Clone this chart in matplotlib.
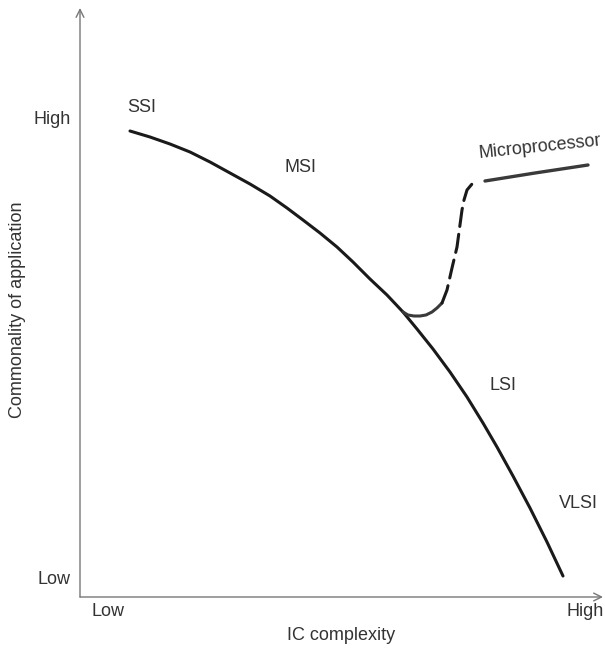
import matplotlib
matplotlib.use("Agg")
import matplotlib.pyplot as plt

# main curve: SSI -> MSI -> LSI -> VLSI (x = IC complexity, y = commonality)
main_x = [50, 70, 90, 110, 130, 150, 170, 190, 207, 223, 240, 257, 273,
          290, 307, 323, 337, 353, 370, 387, 403, 417, 433, 450, 467, 483]
main_y = [466, 460, 453, 445, 435, 424, 413, 401, 389, 377, 364, 350, 335,
          318, 302, 285, 268, 248, 225, 200, 174, 150, 121, 89, 55, 21]

# microprocessor branch: hook, dashed rise, solid plateau
hook_x = [323, 328, 334, 340, 346, 352, 357, 362]
hook_y = [285, 282, 281, 281, 282, 285, 289, 294]
rise_x = [362, 367, 372, 377, 382, 384, 387, 392, 398]
rise_y = [294, 307, 329, 350, 387, 397, 407, 413, 415]
plateau_x = [405, 455, 508]
plateau_y = [416, 424, 432]

xticks = [28, 505]
xtick_labels = ["Low", "High"]
yticks = [19, 480]
ytick_labels = ["Low", "High"]

labels = ["SSI", "MSI", "LSI", "VLSI"]
label_x = [62, 220, 423, 498]
label_y = [490, 430, 211, 93]

plt.rcParams["font.family"] = ["Liberation Sans", "DejaVu Sans"]
text_col = "#333333"
axis_col = "#777777"
fs = 13

fig = plt.figure(figsize=(6.05, 6.5), dpi=100)
ax = fig.add_axes([80 / 605, 53 / 650, 523 / 605, 589 / 650])
ax.set_xlim(0, 523)
ax.set_ylim(0, 589)
for s in ax.spines.values():
    s.set_visible(False)

# axes with open arrowheads
arrow = dict(arrowstyle="->", color=axis_col, lw=1.0, shrinkA=0, shrinkB=0,
             mutation_scale=14)
ax.annotate("", xy=(0, 589), xytext=(0, 0), arrowprops=arrow, annotation_clip=False)
ax.annotate("", xy=(523, 0), xytext=(0, 0), arrowprops=arrow, annotation_clip=False)

ax.plot(main_x, main_y, color="#1a1a1a", lw=2.2, solid_capstyle="round",
        solid_joinstyle="round")
ax.plot(hook_x, hook_y, color="#3a3a3a", lw=2.2, solid_capstyle="round",
        solid_joinstyle="round")
ax.plot(rise_x, rise_y, color="#1a1a1a", lw=2.2, dashes=(6, 2.6),
        dash_capstyle="round", dash_joinstyle="round")
ax.plot(plateau_x, plateau_y, color="#3a3a3a", lw=2.4, solid_capstyle="round")

for t, x, y in zip(labels, label_x, label_y):
    ax.text(x, y, t, ha="center", va="center", fontsize=fs, color=text_col)
ax.text(460, 450, "Microprocessor", ha="center", va="center", fontsize=fs,
        color=text_col, rotation=6)

ax.set_xticks(xticks, xtick_labels)
ax.set_yticks(yticks, ytick_labels)
ax.tick_params(length=0, labelsize=fs, labelcolor=text_col)
ax.tick_params(axis="x", pad=4)
ax.tick_params(axis="y", pad=7)
ax.set_xlabel("IC complexity", fontsize=fs, color=text_col, labelpad=5)
ax.set_ylabel("Commonality of application", fontsize=fs, color=text_col)
ax.yaxis.set_label_coords(-0.103, 0.487)

fig.savefig("out.png", dpi=100)
